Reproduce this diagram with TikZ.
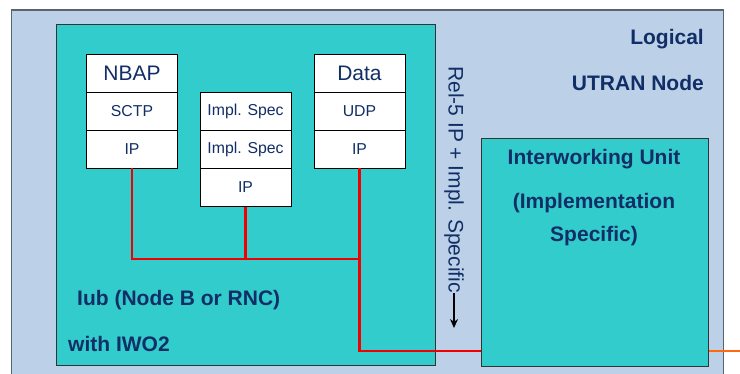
\documentclass[tikz,border=0pt]{standalone}
\usepackage{fontspec}
\setmainfont{Liberation Sans}
\usetikzlibrary{arrows.meta}
\definecolor{outerblue}{HTML}{BCD1E8}
\definecolor{tealfill}{HTML}{33CCCC}
\definecolor{navy}{HTML}{112E66}
\definecolor{bordergray}{HTML}{5A6470}
\definecolor{linered}{HTML}{F00000}
\definecolor{lineorange}{HTML}{FF6A10}
\begin{document}
\begin{tikzpicture}[x=1pt,y=-1pt,
  cell/.style={draw=black,line width=0.9pt,fill=white,minimum width=91pt,minimum height=37.8pt,inner sep=0pt,text=navy,font=\fontsize{15.8}{18}\selectfont},
  bigcell/.style={cell,font=\fontsize{21}{24}\selectfont},
  lbl/.style={text=navy,font=\bfseries\fontsize{21}{24}\selectfont,inner sep=0pt},
  redline/.style={draw=linered,line width=2.4pt},
  orangeline/.style={draw=lineorange,line width=2.2pt}]
\useasboundingbox (0,0) rectangle (740,374);
\fill[white] (0,0) rectangle (740,374);
\clip (0,0) rectangle (740,374);
% outer logical node
\node[draw=bordergray,line width=1.3pt,fill=outerblue,minimum width=712pt,minimum height=380pt,anchor=north west,inner sep=0pt] (outer) at (10.5,9.5) {};
% Iub box
\node[draw=black!80,line width=1pt,fill=tealfill,minimum width=379pt,minimum height=341pt,anchor=north west,inner sep=0pt] (iub) at (56,24.5) {};
% Interworking unit
\node[draw=black!80,line width=1pt,fill=tealfill,minimum width=227pt,minimum height=227.5pt,anchor=north west,inner sep=0pt] (iwu) at (480.5,138.5) {};
% labels
\node[lbl,anchor=east] (logical) at (704,39) {Logical};
\node[lbl,anchor=east] (utran) at (704,83) {UTRAN Node};
\node[lbl] (iw1) at (594,159) {Interworking Unit};
\node[lbl] (iw2) at (594,203) {(Implementation};
\node[lbl] (iw3) at (594,236) {Specific)};
\node[lbl,anchor=west] (iublbl) at (77,300) {Iub (Node B or RNC)};
\node[lbl,anchor=west] (iwo) at (68,344) {with IWO2};
% protocol stacks
\node[bigcell] (nbap) at (132,73.5) {NBAP};
\node[cell] (sctp) at (132,111.3) {SCTP};
\node[cell] (ip1) at (132,149.1) {IP};
\node[cell] (impl1) at (245.5,111.8) {Impl. Spec};
\node[cell] (impl2) at (245.5,149.6) {Impl. Spec};
\node[cell] (ip2) at (245.5,187.4) {IP};
\node[bigcell] (data) at (359.5,73.5) {Data};
\node[cell] (udp) at (359.5,111.3) {UDP};
\node[cell] (ip3) at (359.5,149.1) {IP};
% rotated label with arrow
\node[rotate=-90,anchor=west,inner sep=0pt,text=navy,font=\fontsize{21}{24}\selectfont] (rel) at (454,66) {Rel-5 IP + Impl. Specific};
\coordinate (tip) at (454,328);
\draw[line width=1.3pt,-{Stealth[length=9pt,width=8pt]}] (rel.east) -- (tip);
% red connectors
\coordinate (j1) at (132,259);
\coordinate (j2) at (245.5,259);
\coordinate (j3) at (359.5,259);
\coordinate (j4) at (359.5,351);
\draw[redline] (ip1.south) -- (j1) -- (j3);
\draw[redline] (ip2.south) -- (j2);
\draw[redline] (ip3.south) -- (j4) -- (j4 -| iwu.west);
\coordinate (oend) at (740,351);
\draw[orangeline] (oend -| iwu.east) -- (oend);
\end{tikzpicture}
\end{document}
